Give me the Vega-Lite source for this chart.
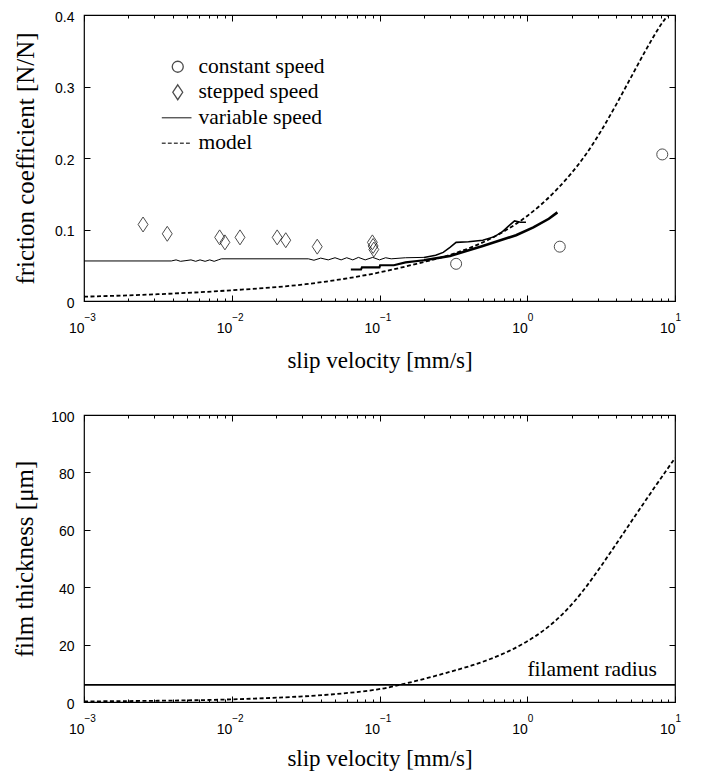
{
  "$schema": "https://vega.github.io/schema/vega-lite/v6.json",
  "autosize": {"type": "pad"},
  "padding": {"left": 12, "top": 9, "right": 5, "bottom": 5},
  "background": "white",
  "spacing": 36,
  "config": {
    "view": {"stroke": "black", "strokeWidth": 1.2},
    "axis": {
      "labelFont": "Liberation Sans",
      "labelFontSize": 14,
      "labelColor": "black",
      "titleFont": "Liberation Serif",
      "titleFontWeight": "normal",
      "titleColor": "black",
      "titleFontSize": 23
    },
    "text": {"font": "Liberation Serif"}
  },
  "vconcat": [
    {
      "width": 591,
      "height": 286,
      "resolve": {"axis": {"x": "independent"}},
      "layer": [
        {
          "data": {"values": [
            {"v": 0.001, "f": 0.006},
            {"v": 0.00316, "f": 0.0095},
            {"v": 0.01, "f": 0.015},
            {"v": 0.0316, "f": 0.0235},
            {"v": 0.1, "f": 0.04},
            {"v": 0.178, "f": 0.052},
            {"v": 0.316, "f": 0.066},
            {"v": 0.562, "f": 0.087},
            {"v": 1.0, "f": 0.119},
            {"v": 1.259, "f": 0.136},
            {"v": 1.585, "f": 0.156},
            {"v": 1.995, "f": 0.179},
            {"v": 2.512, "f": 0.206},
            {"v": 3.162, "f": 0.238},
            {"v": 3.981, "f": 0.274},
            {"v": 5.012, "f": 0.312},
            {"v": 6.31, "f": 0.35},
            {"v": 7.943, "f": 0.385},
            {"v": 8.91, "f": 0.4},
            {"v": 10, "f": 0.42}
          ]},
          "mark": {"type": "line", "color": "black", "strokeDash": [4, 2.5], "strokeWidth": 1.8, "clip": true, "interpolate": "monotone"},
          "encoding": {
            "x": {
              "field": "v", "type": "quantitative",
              "scale": {"type": "log", "domain": [0.001, 10], "nice": false},
              "axis": {
                "orient": "bottom",
                "title": "slip velocity [mm/s]",
                "titlePadding": 14,
                "values": [0.001,0.002,0.003,0.004,0.005,0.006,0.007,0.008,0.009,0.01,0.02,0.03,0.04,0.05,0.06,0.07,0.08,0.09,0.1,0.2,0.3,0.4,0.5,0.6,0.7,0.8,0.9,1,2,3,4,5,6,7,8,9,10],
                "labelExpr": "abs(log(datum.value)/LN10 - round(log(datum.value)/LN10)) < 0.001 ? '10' : ''",
                "labelAlign": "right",
                "labelDx": -2,
                "labelPadding": 20,
                "labelFlush": false,
                "labelOverlap": false,
                "ticks": false,
                "domain": false,
                "grid": true,
                "gridColor": "black",
                "gridOpacity": 1,
                "gridWidth": 1,
                "gridDash": {"condition": {"test": "abs(log(datum.value)/LN10 - round(log(datum.value)/LN10)) < 0.001", "value": [6, 274, 6]}, "value": [3, 280, 3]}
              }
            },
            "y": {
              "field": "f", "type": "quantitative",
              "scale": {"domain": [0, 0.4], "nice": false, "zero": false},
              "axis": {
                "title": "friction coefficient [N/N]",
                "titleFontSize": 25,
                "titlePadding": 16,
                "values": [0, 0.1, 0.2, 0.3, 0.4],
                "labelExpr": "datum.value == 0 ? '0' : format(datum.value, '.1f')",
                "labelPadding": 10,
                "labelOffset": 2,
                "ticks": false,
                "domain": false,
                "grid": true,
                "gridColor": "black",
                "gridOpacity": 1,
                "gridWidth": 1,
                "gridDash": [6, 579, 6]
              }
            }
          }
        },
        {
          "data": {"values": [
            {"run": "r1", "v": 0.001, "f": 0.056},
            {"run": "r1", "v": 0.0039, "f": 0.056},
            {"run": "r1", "v": 0.0042, "f": 0.0575},
            {"run": "r1", "v": 0.0045, "f": 0.0555},
            {"run": "r1", "v": 0.0049, "f": 0.0565},
            {"run": "r1", "v": 0.0053, "f": 0.0575},
            {"run": "r1", "v": 0.0057, "f": 0.0555},
            {"run": "r1", "v": 0.0061, "f": 0.0575},
            {"run": "r1", "v": 0.0066, "f": 0.0555},
            {"run": "r1", "v": 0.0071, "f": 0.0575},
            {"run": "r1", "v": 0.0076, "f": 0.0555},
            {"run": "r1", "v": 0.0081, "f": 0.0575},
            {"run": "r1", "v": 0.0085, "f": 0.059},
            {"run": "r1", "v": 0.033, "f": 0.059},
            {"run": "r1", "v": 0.036, "f": 0.057},
            {"run": "r1", "v": 0.04, "f": 0.06},
            {"run": "r1", "v": 0.045, "f": 0.0575},
            {"run": "r1", "v": 0.05, "f": 0.0605},
            {"run": "r1", "v": 0.055, "f": 0.0575},
            {"run": "r1", "v": 0.06, "f": 0.0605},
            {"run": "r1", "v": 0.066, "f": 0.0575},
            {"run": "r1", "v": 0.072, "f": 0.061},
            {"run": "r1", "v": 0.08, "f": 0.0575},
            {"run": "r1", "v": 0.09, "f": 0.061},
            {"run": "r1", "v": 0.1, "f": 0.0575},
            {"run": "r1", "v": 0.11, "f": 0.0605},
            {"run": "r1", "v": 0.12, "f": 0.059},
            {"run": "r1", "v": 0.15, "f": 0.0605},
            {"run": "r1", "v": 0.2, "f": 0.061},
            {"run": "r2", "v": 0.2, "f": 0.061},
            {"run": "r2", "v": 0.24, "f": 0.064},
            {"run": "r2", "v": 0.27, "f": 0.068},
            {"run": "r2", "v": 0.3, "f": 0.075},
            {"run": "r2", "v": 0.33, "f": 0.082},
            {"run": "r2", "v": 0.4, "f": 0.083},
            {"run": "r2", "v": 0.5, "f": 0.085},
            {"run": "r2", "v": 0.6, "f": 0.09},
            {"run": "r2", "v": 0.68, "f": 0.097},
            {"run": "r2", "v": 0.75, "f": 0.105},
            {"run": "r2", "v": 0.82, "f": 0.112},
            {"run": "r2", "v": 0.9, "f": 0.11},
            {"run": "r2", "v": 0.98, "f": 0.11},
            {"run": "r3", "v": 0.064, "f": 0.044},
            {"run": "r3", "v": 0.075, "f": 0.044},
            {"run": "r3", "v": 0.076, "f": 0.047},
            {"run": "r3", "v": 0.1, "f": 0.047},
            {"run": "r3", "v": 0.101, "f": 0.05},
            {"run": "r3", "v": 0.125, "f": 0.05},
            {"run": "r3", "v": 0.15, "f": 0.054},
            {"run": "r3", "v": 0.2, "f": 0.057},
            {"run": "r4", "v": 0.2, "f": 0.057},
            {"run": "r4", "v": 0.3, "f": 0.063},
            {"run": "r4", "v": 0.5, "f": 0.077},
            {"run": "r4", "v": 0.84, "f": 0.092},
            {"run": "r4", "v": 1.1, "f": 0.103},
            {"run": "r4", "v": 1.4, "f": 0.115},
            {"run": "r4", "v": 1.6, "f": 0.124}
          ]},
          "mark": {"type": "line", "color": "black"},
          "encoding": {
            "x": {"field": "v", "type": "quantitative", "scale": {"type": "log", "domain": [0.001, 10], "nice": false}, "axis": null},
            "y": {"field": "f", "type": "quantitative", "scale": {"domain": [0, 0.4], "nice": false, "zero": false}},
            "detail": {"field": "run"},
            "strokeWidth": {"field": "run", "type": "nominal", "scale": {"domain": ["r1", "r2", "r3", "r4"], "range": [1, 2.6, 1, 2.6]}, "legend": null}
          }
        },
        {
          "data": {"values": [
            {"series": "constant speed", "v": 0.33, "f": 0.052},
            {"series": "constant speed", "v": 1.66, "f": 0.076},
            {"series": "constant speed", "v": 8.2, "f": 0.205},
            {"series": "stepped speed", "v": 0.00251, "f": 0.107},
            {"series": "stepped speed", "v": 0.00366, "f": 0.094},
            {"series": "stepped speed", "v": 0.00828, "f": 0.089},
            {"series": "stepped speed", "v": 0.00899, "f": 0.082},
            {"series": "stepped speed", "v": 0.01137, "f": 0.089},
            {"series": "stepped speed", "v": 0.0203, "f": 0.089},
            {"series": "stepped speed", "v": 0.0232, "f": 0.085},
            {"series": "stepped speed", "v": 0.0379, "f": 0.076},
            {"series": "stepped speed", "v": 0.0895, "f": 0.082},
            {"series": "stepped speed", "v": 0.0905, "f": 0.077},
            {"series": "stepped speed", "v": 0.0915, "f": 0.072}
          ]},
          "mark": {"type": "point", "filled": false, "color": "black", "strokeWidth": 1, "size": 121},
          "encoding": {
            "x": {
              "field": "v", "type": "quantitative",
              "scale": {"type": "log", "domain": [0.001, 10], "nice": false},
              "axis": {
                "orient": "bottom",
                "title": null,
                "values": [0.001, 0.01, 0.1, 1, 10],
                "labelExpr": "round(log(datum.value)/LN10) < 0 ? '\u2212' + abs(round(log(datum.value)/LN10)) : '' + round(log(datum.value)/LN10)",
                "labelAlign": "left",
                "labelDx": 4,
                "labelPadding": 11,
                "labelFontSize": 10,
                "labelFlush": false,
                "labelOverlap": false,
                "ticks": false,
                "domain": false,
                "grid": false
              }
            },
            "y": {"field": "f", "type": "quantitative", "scale": {"domain": [0, 0.4], "nice": false, "zero": false}},
            "shape": {
              "field": "series", "type": "nominal",
              "scale": {
                "domain": ["constant speed", "stepped speed", "variable speed", "model"],
                "range": ["circle", "M0,-1.36L0.9,0L0,1.36L-0.9,0Z", "M-2.9,0H2.5", "M-2.9,0H-2.2M-1.8,0H-1.1M-0.7,0H0M0.4,0H1.1M1.5,0H2.2M2.5,0H2.5"]
              },
              "legend": {
                "orient": "none",
                "legendX": 83,
                "legendY": 41,
                "title": null,
                "padding": 0,
                "labelFont": "Liberation Serif",
                "labelFontSize": 21.5,
                "labelColor": "black",
                "labelOffset": 10,
                "symbolSize": 121,
                "symbolStrokeColor": "black",
                "symbolFillColor": "transparent",
                "symbolStrokeWidth": 1.3,
                "rowPadding": 2.5
              }
            }
          }
        }
      ]
    },
    {
      "width": 591,
      "height": 287,
      "resolve": {"axis": {"x": "independent"}},
      "layer": [
        {
          "data": {"values": [
            {"v": 0.001, "h": 0.2},
            {"v": 0.00316, "h": 0.4},
            {"v": 0.01, "h": 0.8},
            {"v": 0.0316, "h": 1.9},
            {"v": 0.0562, "h": 2.9},
            {"v": 0.1, "h": 4.3},
            {"v": 0.135, "h": 5.9},
            {"v": 0.178, "h": 7.3},
            {"v": 0.316, "h": 10.8},
            {"v": 0.422, "h": 12.7},
            {"v": 0.562, "h": 14.9},
            {"v": 0.75, "h": 17.6},
            {"v": 1.0, "h": 21},
            {"v": 1.334, "h": 25.3},
            {"v": 1.778, "h": 30.9},
            {"v": 2.371, "h": 38.3},
            {"v": 3.162, "h": 47.3},
            {"v": 4.217, "h": 56.8},
            {"v": 5.623, "h": 66.4},
            {"v": 7.499, "h": 75.8},
            {"v": 10, "h": 85}
          ]},
          "mark": {"type": "line", "color": "black", "strokeDash": [4, 2.5], "strokeWidth": 1.8, "clip": true, "interpolate": "basis"},
          "encoding": {
            "x": {
              "field": "v", "type": "quantitative",
              "scale": {"type": "log", "domain": [0.001, 10], "nice": false},
              "axis": {
                "orient": "bottom",
                "title": "slip velocity [mm/s]",
                "titlePadding": 11,
                "values": [0.001,0.002,0.003,0.004,0.005,0.006,0.007,0.008,0.009,0.01,0.02,0.03,0.04,0.05,0.06,0.07,0.08,0.09,0.1,0.2,0.3,0.4,0.5,0.6,0.7,0.8,0.9,1,2,3,4,5,6,7,8,9,10],
                "labelExpr": "abs(log(datum.value)/LN10 - round(log(datum.value)/LN10)) < 0.001 ? '10' : ''",
                "labelAlign": "right",
                "labelDx": -2,
                "labelPadding": 20,
                "labelFlush": false,
                "labelOverlap": false,
                "ticks": false,
                "domain": false,
                "grid": true,
                "gridColor": "black",
                "gridOpacity": 1,
                "gridWidth": 1,
                "gridDash": {"condition": {"test": "abs(log(datum.value)/LN10 - round(log(datum.value)/LN10)) < 0.001", "value": [6, 275, 6]}, "value": [3, 281, 3]}
              }
            },
            "y": {
              "field": "h", "type": "quantitative",
              "scale": {"domain": [0, 100], "nice": false, "zero": false},
              "axis": {
                "title": "film thickness [\u03bcm]",
                "titleFontSize": 25,
                "titlePadding": 13,
                "values": [0, 20, 40, 60, 80, 100],
                "labelPadding": 10,
                "labelOffset": 2,
                "ticks": false,
                "domain": false,
                "grid": true,
                "gridColor": "black",
                "gridOpacity": 1,
                "gridWidth": 1,
                "gridDash": [6, 579, 6]
              }
            }
          }
        },
        {
          "data": {"values": [{"h": 6, "v": 7.55, "label": "filament radius"}]},
          "mark": {"type": "rule", "color": "black", "strokeWidth": 1.8},
          "encoding": {
            "y": {"field": "h", "type": "quantitative", "scale": {"domain": [0, 100], "nice": false, "zero": false}}
          }
        },
        {
          "data": {"values": [{"h": 6, "v": 7.55, "label": "filament radius"}]},
          "mark": {"type": "text", "align": "right", "baseline": "bottom", "dy": -4, "fontSize": 21.5, "font": "Liberation Serif", "color": "black"},
          "encoding": {
            "x": {
              "field": "v", "type": "quantitative",
              "scale": {"type": "log", "domain": [0.001, 10], "nice": false},
              "axis": {
                "orient": "bottom",
                "title": null,
                "values": [0.001, 0.01, 0.1, 1, 10],
                "labelExpr": "round(log(datum.value)/LN10) < 0 ? '\u2212' + abs(round(log(datum.value)/LN10)) : '' + round(log(datum.value)/LN10)",
                "labelAlign": "left",
                "labelDx": 4,
                "labelPadding": 11,
                "labelFontSize": 10,
                "labelFlush": false,
                "labelOverlap": false,
                "ticks": false,
                "domain": false,
                "grid": false
              }
            },
            "y": {"field": "h", "type": "quantitative", "scale": {"domain": [0, 100], "nice": false, "zero": false}},
            "text": {"field": "label"}
          }
        }
      ]
    }
  ]
}
